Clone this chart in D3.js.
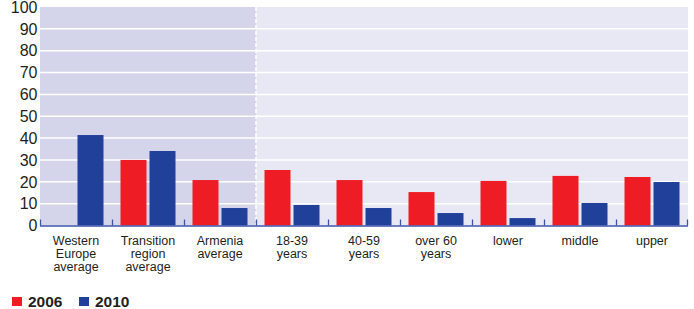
<!DOCTYPE html>
<html>
<head>
<meta charset="utf-8">
<script src="https://cdn.jsdelivr.net/npm/d3@7"></script>
<style>
  body { margin: 0; background: #fff; }
  svg text { font-family: "Liberation Sans", Arial, sans-serif; fill: #231f20; }
</style>
</head>
<body>
<div id="container"></div>
<script>
// data
const categories = [
  ['Western', 'Europe', 'average'],
  ['Transition', 'region', 'average'],
  ['Armenia', 'average'],
  ['18-39', 'years'],
  ['40-59', 'years'],
  ['over 60', 'years'],
  ['lower'],
  ['middle'],
  ['upper']
];
const years = ['2006', '2010'];
const values2006 = [null, 30, 20.8, 25.4, 20.8, 15.3, 20.4, 22.7, 22.2];
const values2010 = [41.4, 34.1, 8, 9.4, 8, 5.7, 3.4, 10.3, 19.9];
const yTicks = [0, 10, 20, 30, 40, 50, 60, 70, 80, 90, 100];
const shadedCount = 3; // first three groups are averages

const colors = { '2006': '#ee1c25', '2010': '#21409a' };

const width = 694, height = 309;
const margin = { top: 7, right: 6, bottom: 83.5, left: 40 };
const innerW = width - margin.left - margin.right;
const innerH = height - margin.top - margin.bottom;

const svg = d3.select('#container').append('svg')
  .attr('width', width)
  .attr('height', height);

const g = svg.append('g')
  .attr('transform', `translate(${margin.left},${margin.top})`);

const x = d3.scaleBand()
  .domain(d3.range(categories.length))
  .range([0, innerW])
  .paddingInner(0)
  .paddingOuter(0);

// bars 26px, gap 3px, 8.5px each side inside a 72px group
const xSub = d3.scaleBand()
  .domain(years)
  .range([0, x.bandwidth()])
  .paddingInner(3 / 29)
  .paddingOuter(8.5 / 29);

const y = d3.scaleLinear()
  .domain([0, 100])
  .range([innerH, 0]);

// backgrounds
const splitX = x(shadedCount);
g.append('rect')
  .attr('x', 0).attr('y', 0)
  .attr('width', splitX).attr('height', innerH)
  .attr('fill', '#d4d4eb');
g.append('rect')
  .attr('x', splitX).attr('y', 0)
  .attr('width', innerW - splitX).attr('height', innerH)
  .attr('fill', '#e8e8f4');

// gridlines
g.append('g')
  .selectAll('line')
  .data(yTicks.filter((d) => d > 0 && d < 100))
  .enter()
  .append('line')
  .attr('x1', 0).attr('x2', innerW)
  .attr('y1', (d) => y(d)).attr('y2', (d) => y(d))
  .attr('stroke', '#fff')
  .attr('stroke-width', 1.5);

// dashed separator
g.append('line')
  .attr('x1', splitX).attr('x2', splitX)
  .attr('y1', 0).attr('y2', innerH)
  .attr('stroke', '#fff')
  .attr('stroke-width', 1.5)
  .attr('stroke-dasharray', '4,2');

// bars
const series = [
  { year: '2006', values: values2006 },
  { year: '2010', values: values2010 }
];
series.forEach((s) => {
  g.append('g')
    .selectAll('rect')
    .data(s.values.map((v, i) => ({ v, i })).filter((d) => d.v != null))
    .enter()
    .append('rect')
    .attr('x', (d) => x(d.i) + xSub(s.year))
    .attr('width', xSub.bandwidth())
    .attr('y', (d) => y(d.v))
    .attr('height', (d) => y(0) - y(d.v))
    .attr('fill', colors[s.year]);
});

// baseline and ticks
const axisColor = '#3d55a8';
g.append('line')
  .attr('x1', 0).attr('x2', innerW)
  .attr('y1', y(0) + 0.5).attr('y2', y(0) + 0.5)
  .attr('stroke', axisColor)
  .attr('stroke-width', 1.5);
g.append('g')
  .selectAll('line')
  .data(d3.range(categories.length + 1))
  .enter()
  .append('line')
  .attr('x1', (d) => d === categories.length ? innerW - 0.5 : x(d) + 0.5)
  .attr('x2', (d) => d === categories.length ? innerW - 0.5 : x(d) + 0.5)
  .attr('y1', y(0)).attr('y2', y(0) - 6)
  .attr('stroke', axisColor)
  .attr('stroke-width', 1.3);

// y axis labels
g.append('g')
  .selectAll('text')
  .data(yTicks)
  .enter()
  .append('text')
  .attr('x', -2.5)
  .attr('y', (d) => y(d))
  .attr('dy', '0.36em')
  .attr('text-anchor', 'end')
  .style('font-size', '16px')
  .text((d) => d);

// x axis labels
const xl = g.append('g')
  .selectAll('text')
  .data(categories)
  .enter()
  .append('text')
  .attr('text-anchor', 'middle')
  .attr('x', (d, i) => x(i) + x.bandwidth() / 2)
  .attr('y', innerH + 19)
  .style('font-size', '12.5px');
xl.selectAll('tspan')
  .data((d) => d)
  .enter()
  .append('tspan')
  .attr('x', function() { return d3.select(this.parentNode).attr('x'); })
  .attr('dy', (d, i) => i === 0 ? 0 : 13)
  .text((d) => d);

// legend
const legend = svg.append('g')
  .attr('transform', 'translate(12,296)');
const legendX = [0, 67];
years.forEach((yr, i) => {
  legend.append('rect')
    .attr('x', legendX[i]).attr('y', 1)
    .attr('width', 10).attr('height', 9)
    .attr('fill', colors[yr]);
  legend.append('text')
    .attr('x', legendX[i] + 16)
    .attr('y', 10.5)
    .style('font-size', '15.5px')
    .style('font-weight', 'bold')
    .text(yr);
});
</script>
</body>
</html>
